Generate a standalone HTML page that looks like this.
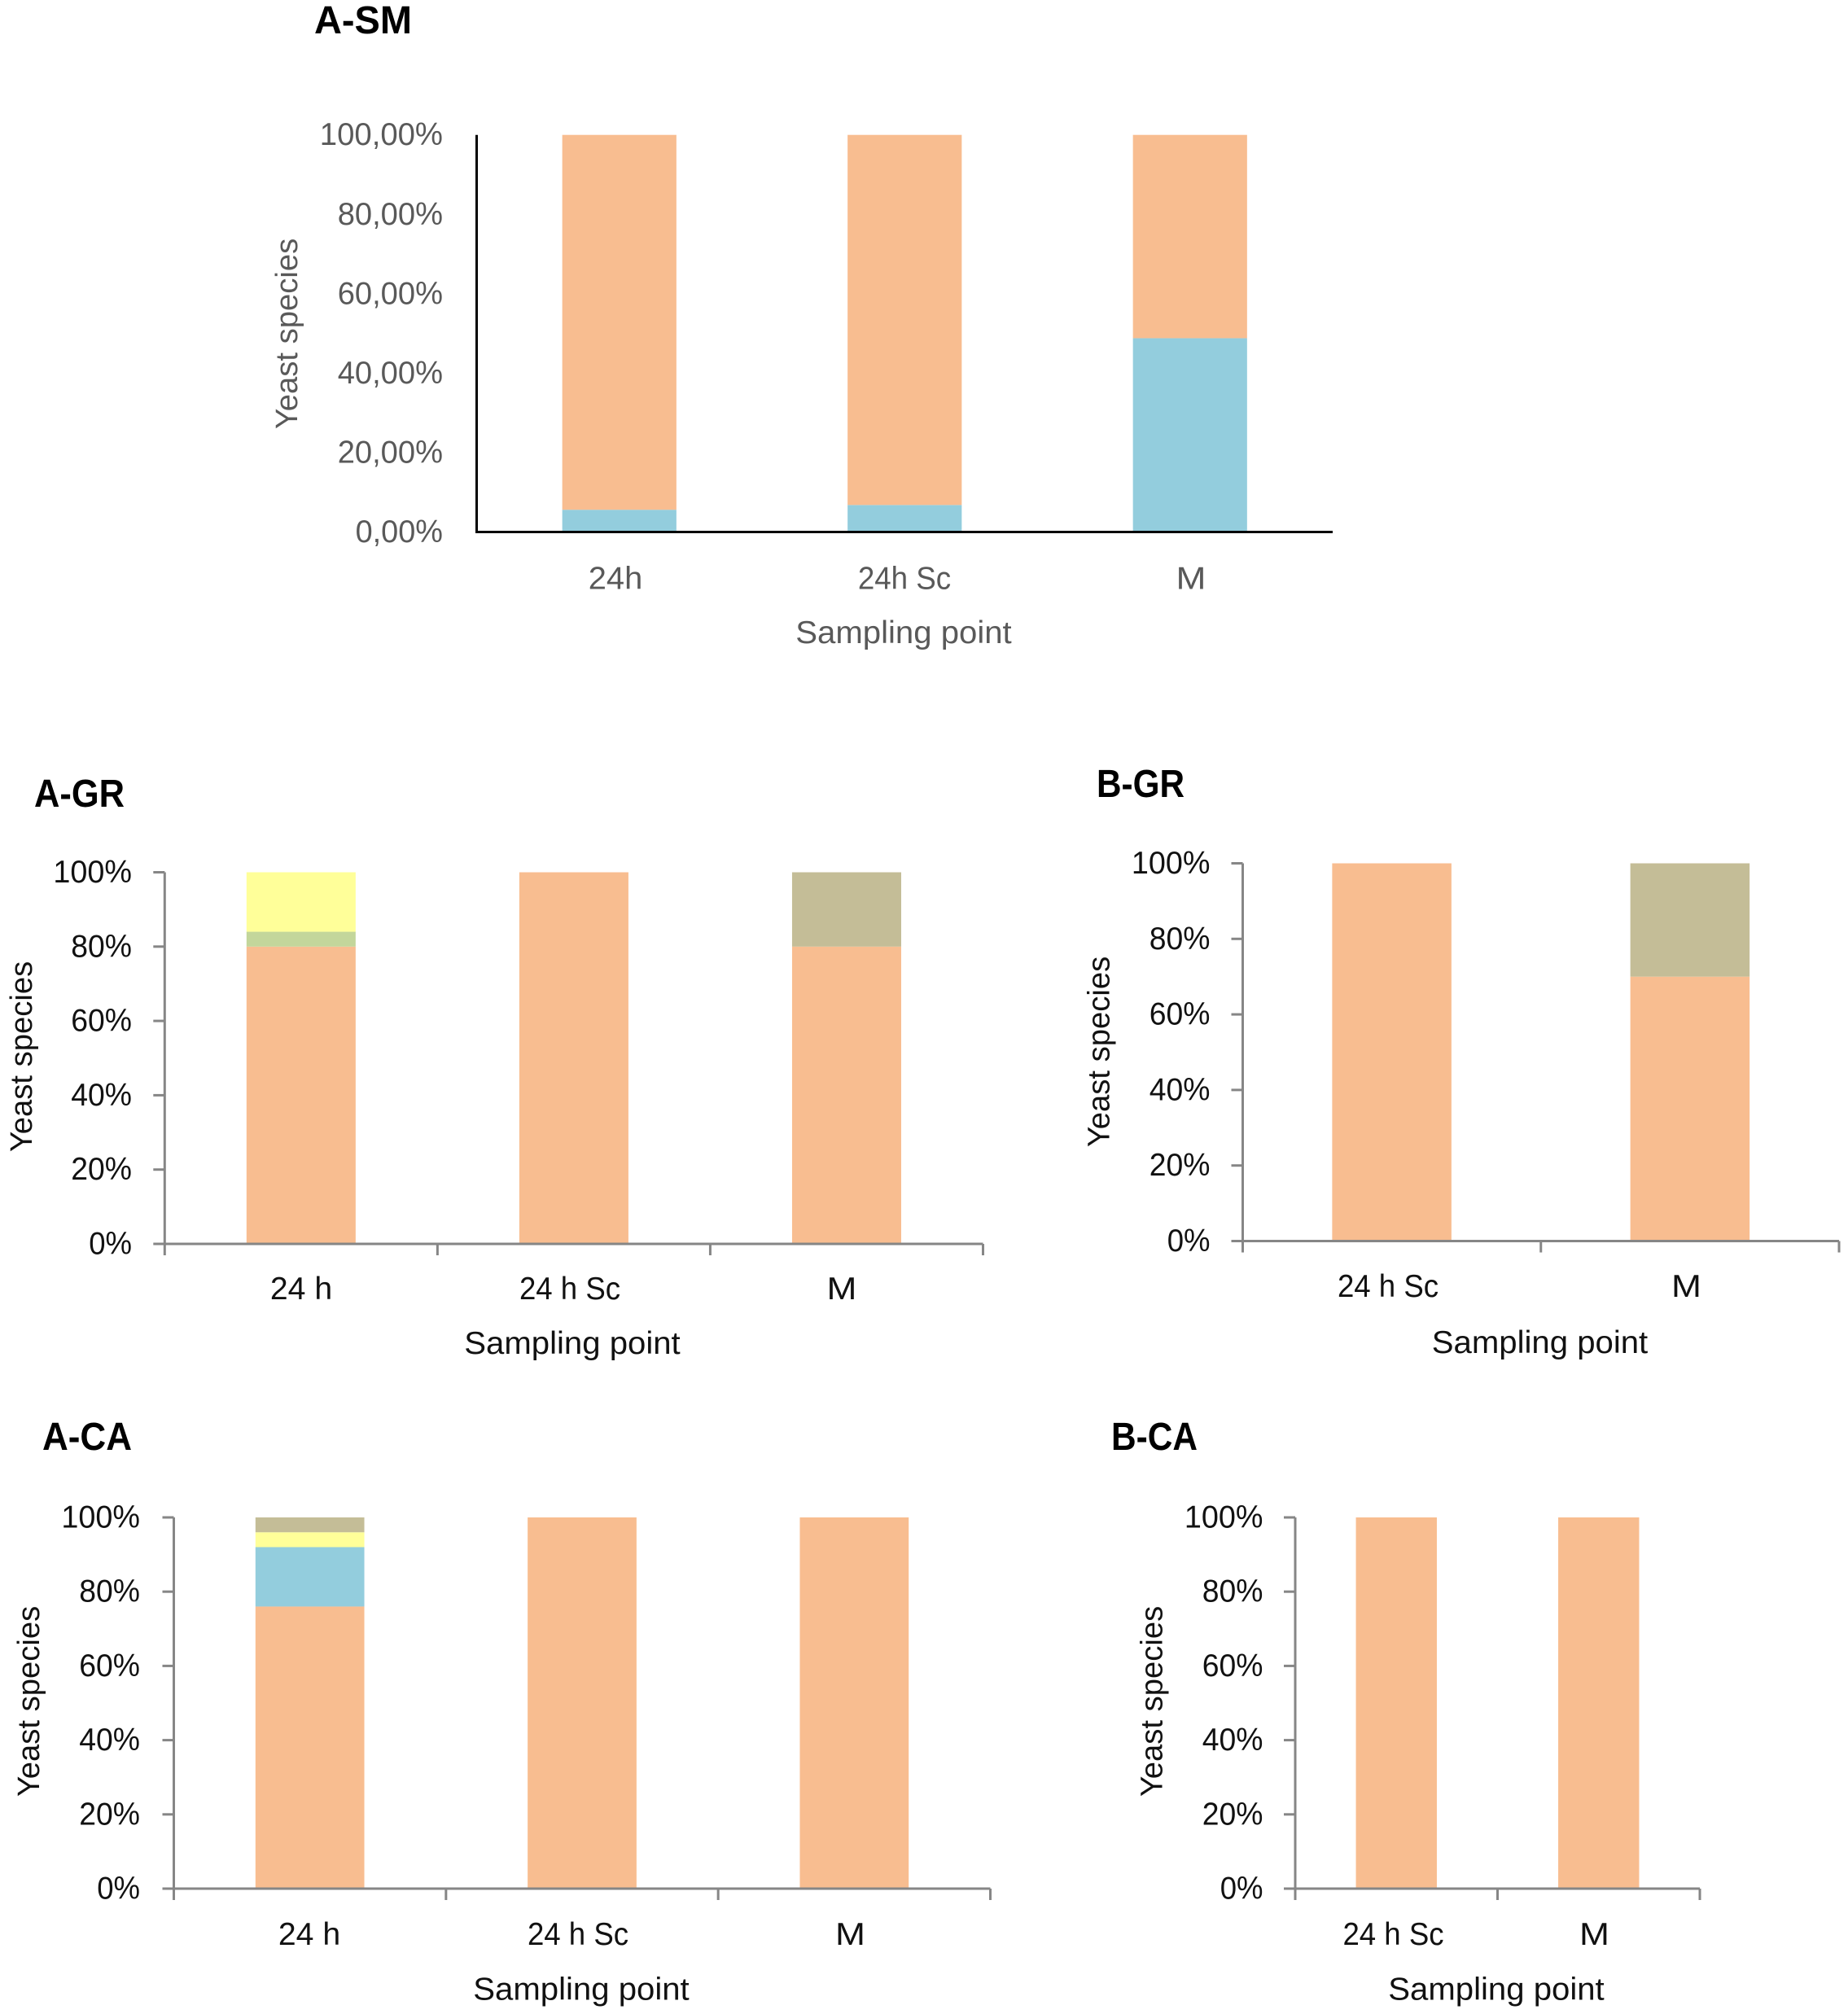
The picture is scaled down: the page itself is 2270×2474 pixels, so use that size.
<!DOCTYPE html>
<html lang="en">
<head>
<meta charset="utf-8">
<title>Yeast species by sampling point</title>
<style>
html,body{margin:0;padding:0;background:#fff;}
svg{display:block;}
text{font-family:"Liberation Sans",sans-serif;}
</style>
</head>
<body>
<svg id="figure" xmlns="http://www.w3.org/2000/svg" width="2270" height="2474" viewBox="0 0 2270 2474"></svg>
<script>
const percentTicks = [0, 20, 40, 60, 80, 100];
const decimalTickLabels = ['0,00%', '20,00%', '40,00%', '60,00%', '80,00%', '100,00%'];
const wholeTickLabels = ['0%', '20%', '40%', '60%', '80%', '100%'];

const aSmCategories = ['24h', '24h Sc', 'M'];
const aSmBlue = [5.6, 6.8, 48.8];
const aSmOrange = [94.4, 93.2, 51.2];

const aGrCategories = ['24 h', '24 h Sc', 'M'];
const aGrOrange = [80, 100, 80];
const aGrGreen = [4, 0, 0];
const aGrYellow = [16, 0, 0];
const aGrTan = [0, 0, 20];

const bGrCategories = ['24 h Sc', 'M'];
const bGrOrange = [100, 70];
const bGrTan = [0, 30];

const aCaCategories = ['24 h', '24 h Sc', 'M'];
const aCaOrange = [76, 100, 100];
const aCaBlue = [16, 0, 0];
const aCaYellow = [4, 0, 0];
const aCaTan = [4, 0, 0];

const bCaCategories = ['24 h Sc', 'M'];
const bCaOrange = [100, 100];

const ORANGE = '#F8BD90', BLUE = '#93CDDD', YELLOW = '#FFFF99', GREEN = '#C3D69B', TAN = '#C4BD97';

const charts = [
  {id:'a-sm', title:'A-SM', titleX:386, titleY:41, titleW:120, cats:aSmCategories, labels:decimalTickLabels,
   series:[['blue',aSmBlue,BLUE],['orange',aSmOrange,ORANGE]],
   x0:585.5, x1:1637, top:165.7, bot:653.5, gap:0.4, ink:'#595959', axis:'#000', ticks:false,
   tickRight:544, catY:723.5, catCenters:[756,1111,1463], xTitleX:1110, xTitleY:790, yTitleX:365, yTitleY:410},
  {id:'a-gr', title:'A-GR', titleX:42, titleY:991, titleW:111, cats:aGrCategories, labels:wholeTickLabels,
   series:[['orange',aGrOrange,ORANGE],['green',aGrGreen,GREEN],['yellow',aGrYellow,YELLOW],['tan',aGrTan,TAN]],
   x0:202.3, x1:1207.5, top:1071.5, bot:1528, gap:0.4, ink:'#111', axis:'#868686', ticks:true,
   tickRight:162, catY:1596, catCenters:[370,700,1034], xTitleX:703, xTitleY:1663, yTitleX:39, yTitleY:1298},
  {id:'b-gr', title:'B-GR', titleX:1347, titleY:979, titleW:108, cats:bGrCategories, labels:wholeTickLabels,
   series:[['orange',bGrOrange,ORANGE],['tan',bGrTan,TAN]],
   x0:1526.5, x1:2259, top:1060.5, bot:1524.5, gap:0.4, ink:'#111', axis:'#868686', ticks:true,
   tickRight:1486.5, catY:1593, catCenters:[1705,2071.5], xTitleX:1891.5, xTitleY:1662, yTitleX:1362.5, yTitleY:1292},
  {id:'a-ca', title:'A-CA', titleX:52, titleY:1781, titleW:110, cats:aCaCategories, labels:wholeTickLabels,
   series:[['orange',aCaOrange,ORANGE],['blue',aCaBlue,BLUE],['yellow',aCaYellow,YELLOW],['tan',aCaTan,TAN]],
   x0:213.5, x1:1216.5, top:1864, bot:2320, gap:0.4, ink:'#111', axis:'#868686', ticks:true,
   tickRight:172, catY:2389, catCenters:[380,710,1044.5], xTitleX:714, xTitleY:2456.5, yTitleX:48, yTitleY:2090},
  {id:'b-ca', title:'B-CA', titleX:1365, titleY:1781, titleW:106, cats:bCaCategories, labels:wholeTickLabels,
   series:[['orange',bCaOrange,ORANGE]],
   x0:1591, x1:2088, top:1864, bot:2320, gap:0.4, ink:'#111', axis:'#868686', ticks:true,
   tickRight:1551.5, catY:2389, catCenters:[1711.5,1958.5], xTitleX:1838, xTitleY:2456.5, yTitleX:1427.5, yTitleY:2090}
];

const NS = 'http://www.w3.org/2000/svg';
const root = document.getElementById('figure');
const ADV = {'0':.507,'1':.507,'2':.507,'3':.507,'4':.507,'5':.507,'6':.507,'7':.507,'8':.507,'9':.507,
  ',':.25,'%':.715,' ':.226,'Y':.487,'e':.498,'a':.479,'s':.391,'t':.335,'p':.525,'c':.423,'i':.229,'S':.459,
  'm':.799,'l':.229,'n':.525,'g':.471,'o':.527,'h':.525,'M':.855};
function textWidth(str){
  let w = 0;
  for (const ch of str) w += ADV[ch] || .5;
  return w * 43.2;
}
function make(tag, attrs, parent){
  const el = document.createElementNS(NS, tag);
  for (const k in attrs) el.setAttribute(k, attrs[k]);
  parent.appendChild(el);
  return el;
}
function label(parent, str, x, y, anchor, size, fill, width, extra){
  const attrs = {x:x, y:y, 'text-anchor':anchor, 'font-size':size, fill:fill, textLength:width, lengthAdjust:'spacingAndGlyphs'};
  if (extra) for (const k in extra) attrs[k] = extra[k];
  const el = make('text', attrs, parent);
  el.textContent = str;
  return el;
}
function drawChart(c){
  const g = make('g', {}, root);
  
  

  const yScale = v => c.bot - (v / 100) * (c.bot - c.top);
  const band = (c.x1 - c.x0) / c.cats.length;
  const xBand = i => c.x0 + band * i;
  const barW = band * 0.4;

  const title = label(g, c.title, c.titleX, c.titleY, 'start', 48, '#000', c.titleW, {'font-weight':'bold'});
  
  

  c.cats.forEach((cat, i) => {
    let cum = 0;
    c.series.forEach(s => {
      const v = s[1][i];
      if (v > 0) {
        const rect = make('rect', {x:xBand(i) + (band - barW) / 2, y:yScale(cum + v), width:barW, height:yScale(cum) - yScale(cum + v), fill:s[2]}, g);
        
        
      }
      cum += v;
    });
  });

  const yAxis = make('line', {x1:c.x0, x2:c.x0, y1:c.top, y2:c.bot + 1.5, stroke:c.axis, 'stroke-width':3}, g);
  
  
  const xAxis = make('line', {x1:c.x0 - 1.5, x2:c.x1, y1:c.bot, y2:c.bot, stroke:c.axis, 'stroke-width':3}, g);
  
  

  percentTicks.forEach((t, i) => {
    const y = yScale(t);
    if (c.ticks) {
      const tick = make('line', {x1:c.x0 - 14, x2:c.x0, y1:y, y2:y, stroke:c.axis, 'stroke-width':3}, g);
      
      
    }
    const str = c.labels[i];
    const txt = label(g, str, c.tickRight, y + 12.5, 'end', 39, c.ink, textWidth(str));
    
    
  });

  if (c.ticks) {
    for (let i = 0; i <= c.cats.length; i++) {
      const tick = make('line', {x1:xBand(i), x2:xBand(i), y1:c.bot, y2:c.bot + 14, stroke:c.axis, 'stroke-width':3}, g);
      
      
    }
  }

  c.cats.forEach((cat, i) => {
    const txt = label(g, cat, c.catCenters[i], c.catY, 'middle', 39, c.ink, textWidth(cat));
    
    
  });

  const xt = label(g, 'Sampling point', c.xTitleX, c.xTitleY, 'middle', 39, c.ink, textWidth('Sampling point') * 1.01);
  
  

  const yt = label(g, 'Yeast species', 0, 0, 'middle', 38, c.ink, textWidth('Yeast species') * 1.01, {transform:'translate(' + c.yTitleX + ' ' + c.yTitleY + ') rotate(-90)'});
  
  
}
charts.forEach(drawChart);
</script>
</body>
</html>
